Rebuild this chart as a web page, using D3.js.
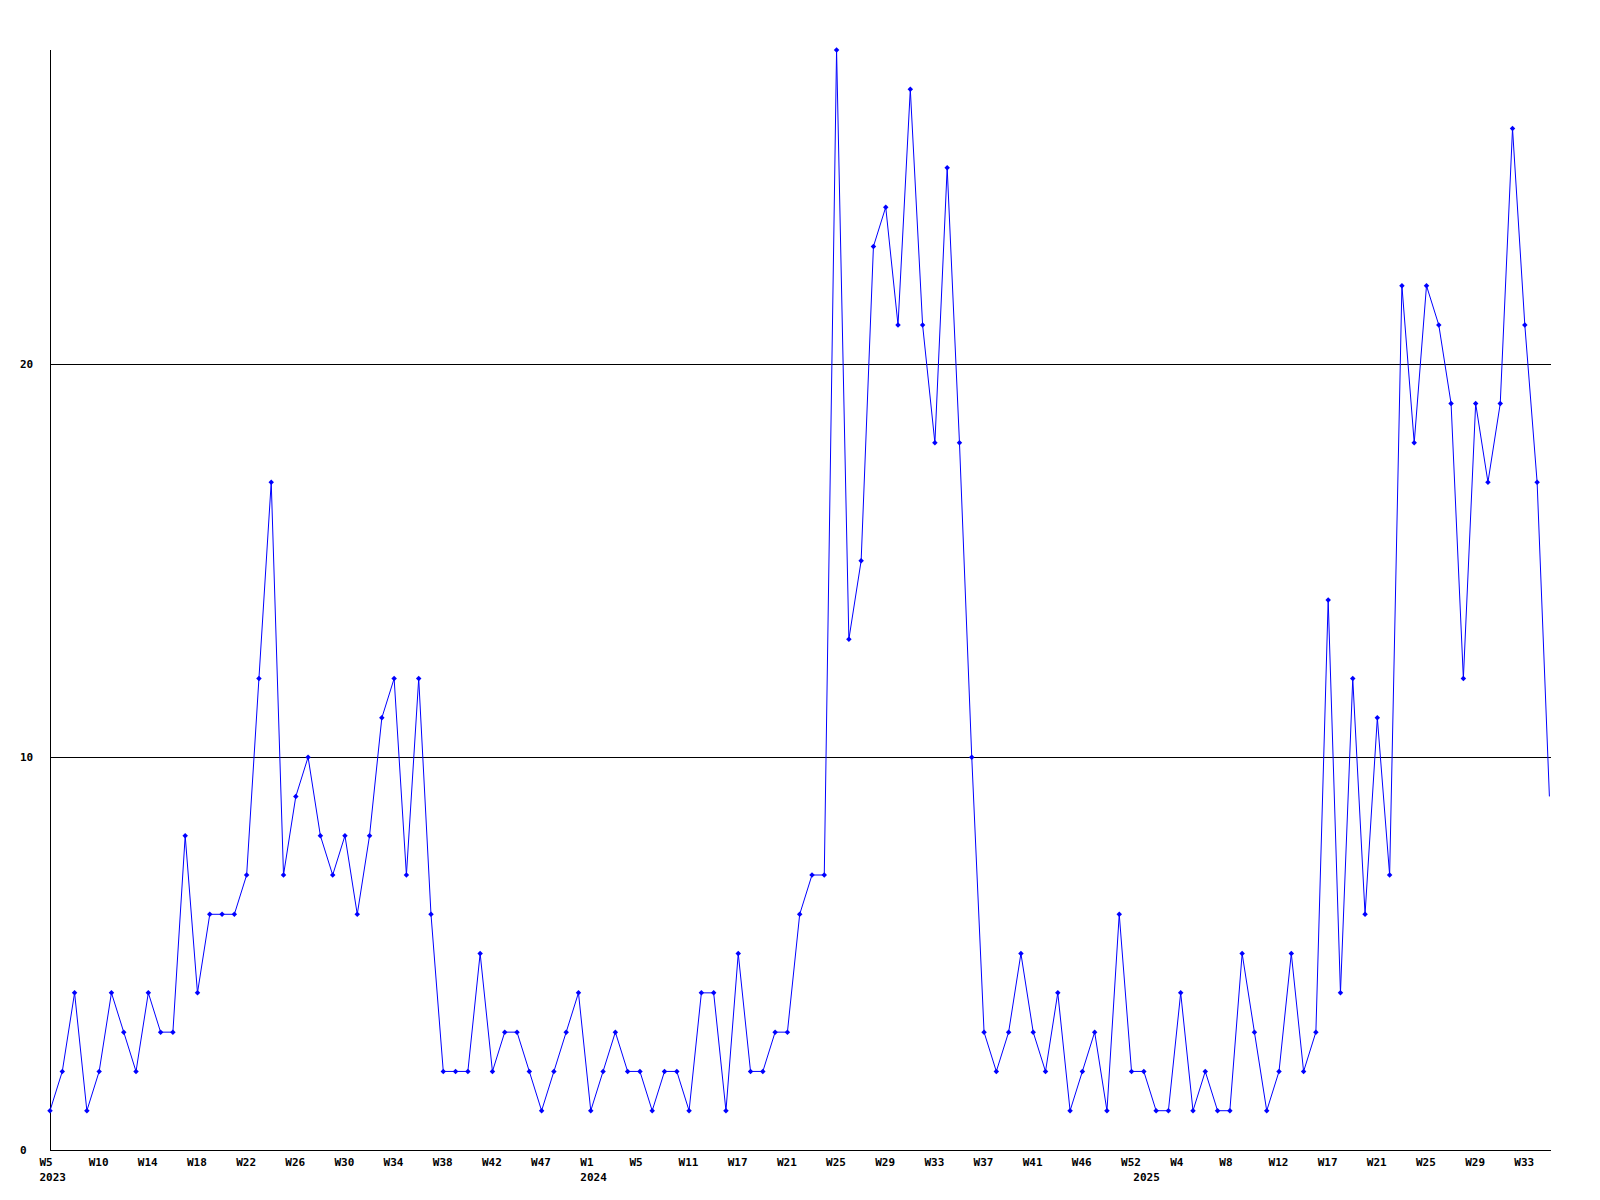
<!DOCTYPE html>
<html>
<head>
<meta charset="utf-8">
<script src="https://cdn.jsdelivr.net/npm/d3@7"></script>
<style>
  html, body { margin: 0; padding: 0; background: #fff; }
  svg text { font-family: "DejaVu Sans Mono", "Liberation Mono", monospace; font-size: 11px; font-weight: bold; fill: #000; }
</style>
</head>
<body>
<svg id="chart" width="1600" height="1200"></svg>
<script>
// Weekly counts, one per data point (123 points)
const values = [
  1,2,4,1,2,4,3,2,4,3,
  3,8,4,6,6,6,7,12,17,7,
  9,10,8,7,8,6,8,11,12,7,
  12,6,2,2,2,5,2,3,3,2,
  1,2,3,4,1,2,3,2,2,1,
  2,2,1,4,4,1,5,2,2,3,
  3,6,7,7,28,13,15,23,24,21,
  27,21,18,25,18,10,3,2,3,5,
  3,2,4,1,2,3,1,6,2,2,
  1,1,4,1,2,1,1,5,3,1,
  2,5,2,3,14,4,12,6,11,7,
  22,18,22,21,19,12,19,17,19,26,
  21,17,9
];
// Week tick labels, every 4th point
const weekLabels = ["W5","W10","W14","W18","W22","W26","W30","W34","W38","W42","W47",
  "W1","W5","W11","W17","W21","W25","W29","W33","W37","W41","W46","W52",
  "W4","W8","W12","W17","W21","W25","W29","W33"];
const weekEvery = 4;
// Year labels and the point index where each year starts
const yearLabels = ["2023","2024","2025"];
const yearIndex = [0, 44, 89];
// Y gridlines / tick labels
const yTicks = [0, 10, 20];
const yMax = 28;

(function () {
  const svg = d3.select("#chart");
  const mLeft = 50, mRight = 1551, mTop = 50, mBottom = 1150;

  const x = d3.scaleLinear().domain([0, values.length - 1]).range([50, 1549.4]);
  const y = d3.scaleLinear().domain([0, yMax]).range([mBottom, mTop]);

  // gridlines
  svg.append("g").selectAll("line").data(yTicks.filter(d => d > 0)).join("line")
    .attr("x1", mLeft).attr("x2", mRight)
    .attr("y1", d => Math.round(y(d)) + 0.5).attr("y2", d => Math.round(y(d)) + 0.5)
    .attr("stroke", "#000").attr("stroke-width", 1);

  // axis lines
  svg.append("line").attr("x1", mLeft + 0.5).attr("x2", mLeft + 0.5)
    .attr("y1", mTop).attr("y2", mBottom + 0.5).attr("stroke", "#000");
  svg.append("line").attr("x1", mLeft).attr("x2", mRight)
    .attr("y1", mBottom + 0.5).attr("y2", mBottom + 0.5).attr("stroke", "#000");

  // y labels
  svg.append("g").selectAll("text").data(yTicks).join("text")
    .attr("x", 20).attr("y", d => y(d) + 4)
    .text(d => d);

  // x week labels
  svg.append("g").selectAll("text").data(weekLabels).join("text")
    .attr("x", (d, i) => x(i * weekEvery) - 10.5)
    .attr("y", 1166)
    .text(d => d);

  // year labels
  svg.append("g").selectAll("text").data(yearLabels).join("text")
    .attr("x", (d, i) => x(yearIndex[i]) - 10.5)
    .attr("y", 1181)
    .text(d => d);

  // line
  const line = d3.line().x((d, i) => x(i)).y(d => y(d));
  svg.append("path").datum(values)
    .attr("d", line)
    .attr("fill", "none")
    .attr("stroke", "#0000ff")
    .attr("stroke-width", 1);

  // markers (last point's marker falls outside the plot edge)
  const sym = d3.symbol().type(d3.symbolSquare).size(15);
  svg.append("g").selectAll("path").data(values.slice(0, -1)).join("path")
    .attr("d", sym)
    .attr("transform", (d, i) => `translate(${x(i)},${y(d)}) rotate(45)`)
    .attr("fill", "#0000ff");
})();
</script>
</body>
</html>
